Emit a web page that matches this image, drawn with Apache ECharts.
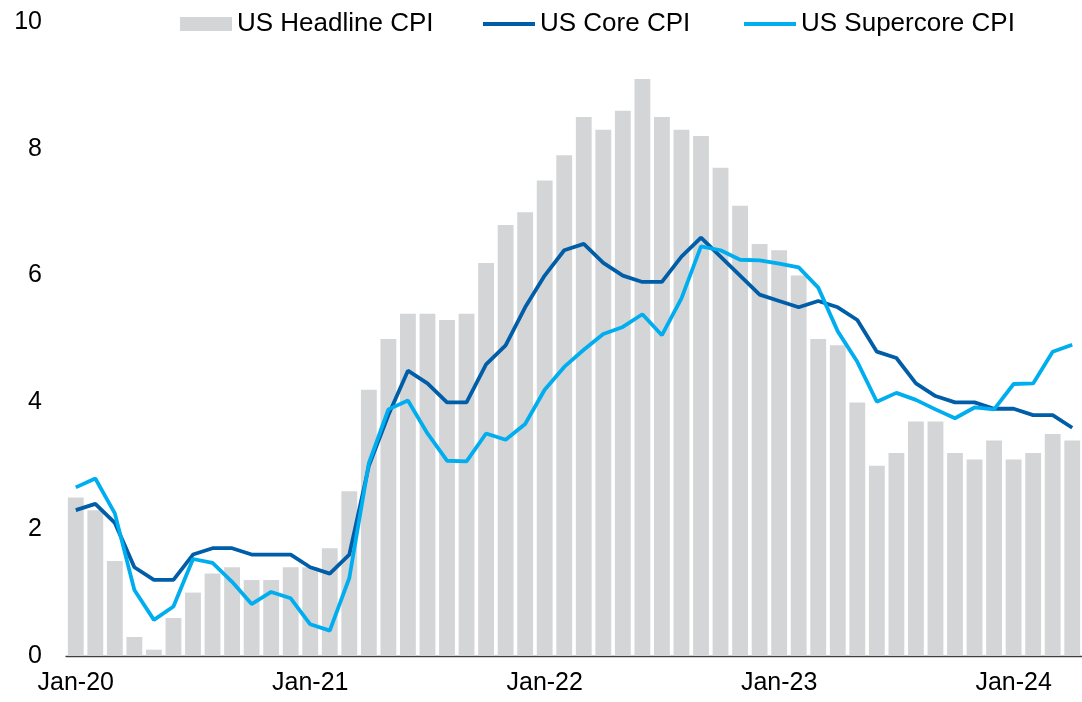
<!DOCTYPE html>
<html>
<head>
<meta charset="utf-8">
<script src="https://cdn.jsdelivr.net/npm/echarts@6/dist/echarts.min.js"></script>
<style>html,body{margin:0;padding:0;background:#fff}#c{width:1082px;height:702px}</style>
</head>
<body>
<div id="c"></div>
<script>
var categories = [
  'Jan-20','Feb-20','Mar-20','Apr-20','May-20','Jun-20','Jul-20','Aug-20','Sep-20','Oct-20','Nov-20','Dec-20',
  'Jan-21','Feb-21','Mar-21','Apr-21','May-21','Jun-21','Jul-21','Aug-21','Sep-21','Oct-21','Nov-21','Dec-21',
  'Jan-22','Feb-22','Mar-22','Apr-22','May-22','Jun-22','Jul-22','Aug-22','Sep-22','Oct-22','Nov-22','Dec-22',
  'Jan-23','Feb-23','Mar-23','Apr-23','May-23','Jun-23','Jul-23','Aug-23','Sep-23','Oct-23','Nov-23','Dec-23',
  'Jan-24','Feb-24','Mar-24','Apr-24'
];
var headlineCPI = [
  2.5,2.3,1.5,0.3,0.1,0.6,1.0,1.3,1.4,1.2,1.2,1.4,
  1.4,1.7,2.6,4.2,5.0,5.4,5.4,5.3,5.4,6.2,6.8,7.0,
  7.5,7.9,8.5,8.3,8.6,9.1,8.5,8.3,8.2,7.7,7.1,6.5,
  6.4,6.0,5.0,4.9,4.0,3.0,3.2,3.7,3.7,3.2,3.1,3.4,
  3.1,3.2,3.5,3.4
];
var coreCPI = [
  2.3,2.4,2.1,1.4,1.2,1.2,1.6,1.7,1.7,1.6,1.6,1.6,
  1.4,1.3,1.6,3.0,3.8,4.5,4.3,4.0,4.0,4.6,4.9,5.5,
  6.0,6.4,6.5,6.2,6.0,5.9,5.9,6.3,6.6,6.3,6.0,5.7,
  5.6,5.5,5.6,5.5,5.3,4.8,4.7,4.3,4.1,4.0,4.0,3.9,
  3.9,3.8,3.8,3.6
];
var supercoreCPI = [
  2.66,2.80,2.25,1.04,0.57,0.78,1.53,1.47,1.17,0.82,1.01,0.91,
  0.50,0.40,1.23,3.04,3.89,4.03,3.51,3.08,3.07,3.51,3.41,3.66,
  4.20,4.56,4.83,5.08,5.19,5.39,5.06,5.64,6.46,6.40,6.25,6.24,
  6.19,6.13,5.81,5.12,4.64,4.01,4.15,4.04,3.89,3.75,3.92,3.89,
  4.29,4.30,4.80,4.91
];
var yTicks = [0, 2, 4, 6, 8, 10];

var FONT = '"Liberation Sans", Arial, sans-serif';
var legendText = {fontSize: 26, color: '#000', fontFamily: FONT};
function makeLegend(name, left, h) {
  return {
    left: left, top: 11,
    padding: 0,
    icon: 'rect',
    itemWidth: 52, itemHeight: h,
    textStyle: legendText,
    selectedMode: false,
    data: [name]
  };
}
var chart = echarts.init(document.getElementById('c'), null, {renderer: 'canvas'});
chart.setOption({
  animation: false,
  backgroundColor: '#ffffff',
  textStyle: {fontFamily: FONT},
  legend: [
    makeLegend('US Headline CPI', 180, 14),
    makeLegend('US Core CPI', 483, 4),
    makeLegend('US Supercore CPI', 744, 4)
  ],
  grid: {left: 66, right: 0, top: 22, bottom: 46, containLabel: false},
  xAxis: {
    type: 'category',
    data: categories,
    boundaryGap: true,
    axisLine: {show: true, lineStyle: {color: '#404040', width: 1.3}},
    axisTick: {show: false},
    axisLabel: {interval: 11, fontSize: 25, color: '#000', margin: 15, fontFamily: FONT}
  },
  yAxis: {
    type: 'value',
    min: yTicks[0],
    max: yTicks[yTicks.length - 1],
    interval: 2,
    axisLine: {show: false},
    axisTick: {show: false},
    splitLine: {show: false},
    axisLabel: {fontSize: 25, color: '#000', margin: 24, fontFamily: FONT}
  },
  series: [
    {
      name: 'US Headline CPI',
      type: 'bar',
      data: headlineCPI,
      barCategoryGap: '19%',
      itemStyle: {color: '#D4D5D7'}
    },
    {
      name: 'US Core CPI',
      type: 'line',
      data: coreCPI,
      symbol: 'none',
      lineStyle: {color: '#005EA8', width: 3.8},
      itemStyle: {color: '#005EA8'}
    },
    {
      name: 'US Supercore CPI',
      type: 'line',
      data: supercoreCPI,
      symbol: 'none',
      lineStyle: {color: '#00AEEF', width: 3.8},
      itemStyle: {color: '#00AEEF'}
    }
  ]
});
</script>
</body>
</html>
